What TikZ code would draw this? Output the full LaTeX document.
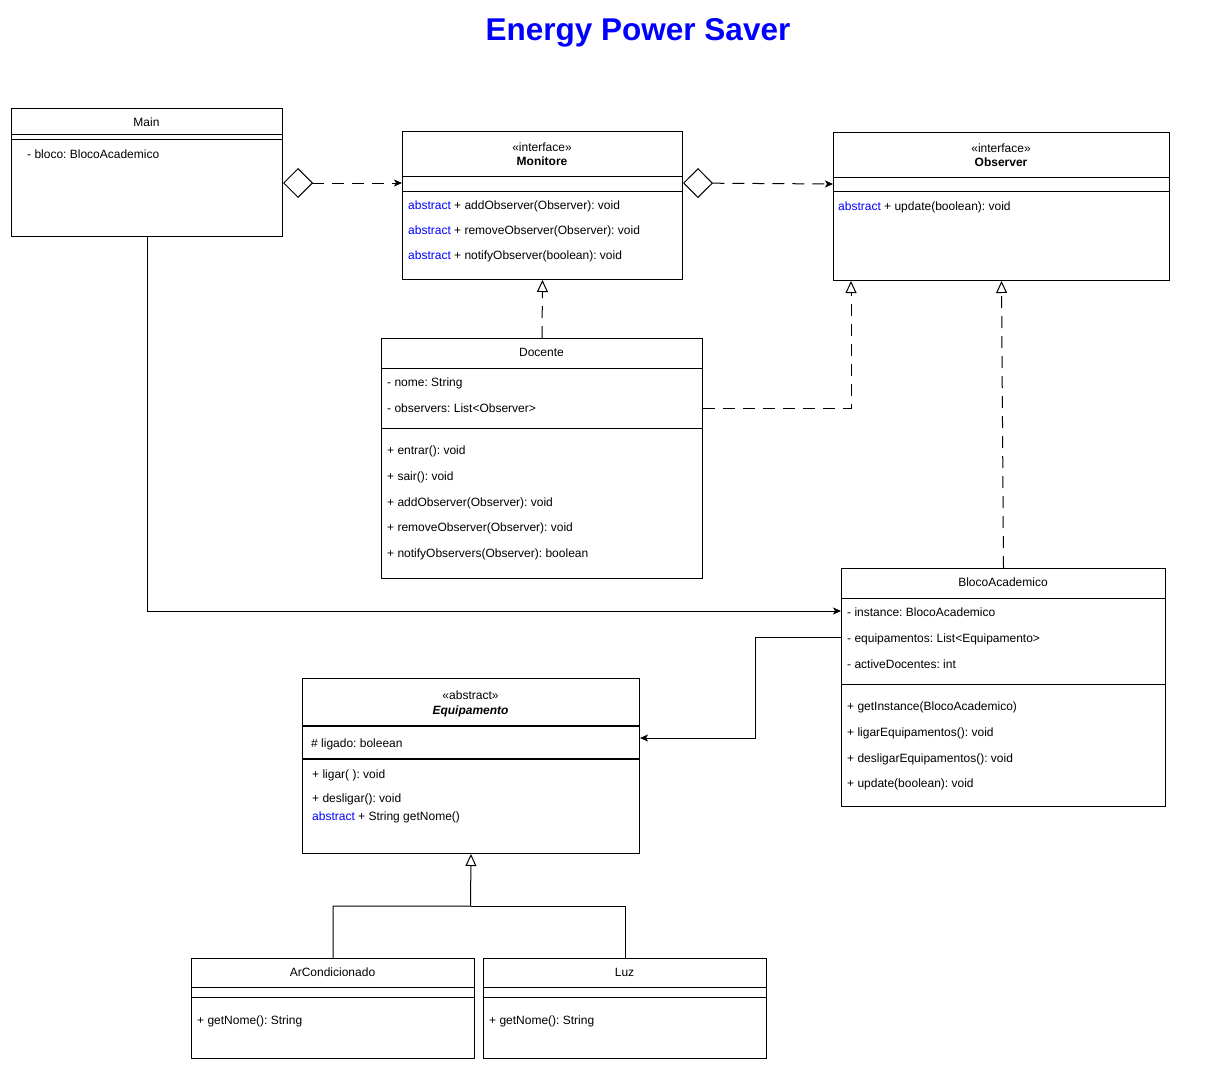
\documentclass[tikz,border=0pt]{standalone}
\usepackage{fontspec}
\setmainfont{Liberation Sans}
\usetikzlibrary{arrows.meta}
\definecolor{absblue}{RGB}{0,0,255}
\newcommand{\abst}{{\color{absblue}abstract}}
\frenchspacing
\begin{document}
\frenchspacing
\begin{tikzpicture}[x=1pt,y=-1pt,
  box/.style={draw=black, line width=1pt, fill=white, anchor=north west, inner sep=0pt},
  mem/.style={anchor=base west, inner sep=0pt, font=\fontsize{12}{14}\selectfont\frenchspacing},
  hdr/.style={anchor=base, inner sep=0pt, font=\fontsize{12}{14}\selectfont\frenchspacing},
  sep/.style={draw=black, line width=1pt},
  conn/.style={draw=black, line width=1pt},
  dashconn/.style={conn, dash pattern=on 12pt off 8pt},
  filledtip/.style={-{Stealth[length=8pt,width=7pt,inset=2pt]}},
  realize/.style={-{Triangle[open,length=12pt,width=11pt,fill=white]}},
  aggr/.style={{Diamond[open,length=30pt,width=30pt,fill=white]}-{Stealth[length=8pt,width=7pt,inset=2pt]}}
]
\useasboundingbox (0,0) rectangle (1206,1070);

% Title
\node[anchor=base, inner sep=0pt, font=\fontsize{31.5}{36}\selectfont\bfseries, text=absblue] (title) at (638,40.5) {Energy Power Saver};

% ---------- Main ----------
\node[box, minimum width=271pt, minimum height=128pt] (main) at (11,108) {};
\draw[sep] (main.west |- 0,134) -- (main.east |- 0,134);
\draw[sep] (main.west |- 0,139) -- (main.east |- 0,139);
\node[hdr] (mainT) at (146.5,126.3) {Main};
\node[mem] (mainA1) at (27,158.3) {- bloco: BlocoAcademico};

% ---------- Monitore ----------
\node[box, minimum width=280pt, minimum height=148pt] (monitore) at (402,131) {};
\draw[sep] (monitore.west |- 0,176) -- (monitore.east |- 0,176);
\draw[sep] (monitore.west |- 0,191) -- (monitore.east |- 0,191);
\node[hdr] (monS) at (542,151.3) {«interface»};
\node[hdr, font=\fontsize{12}{14}\selectfont\bfseries] (monT) at (542,165.3) {Monitore};
\node[mem] (monM1) at (408,209.3) {\abst{} + addObserver(Observer): void};
\node[mem] (monM2) at (408,234.3) {\abst{} + removeObserver(Observer): void};
\node[mem] (monM3) at (408,259.3) {\abst{} + notifyObserver(boolean): void};

% ---------- Observer ----------
\node[box, minimum width=336pt, minimum height=148pt] (observer) at (833,132) {};
\draw[sep] (observer.west |- 0,177) -- (observer.east |- 0,177);
\draw[sep] (observer.west |- 0,191) -- (observer.east |- 0,191);
\node[hdr] (obsS) at (1001,152.3) {«interface»};
\node[hdr, font=\fontsize{12}{14}\selectfont\bfseries] (obsT) at (1001,166.3) {Observer};
\node[mem] (obsM1) at (838,210.3) {\abst{} + update(boolean): void};

% ---------- Docente ----------
\node[box, minimum width=321pt, minimum height=240pt] (docente) at (381,338) {};
\draw[sep] (docente.west |- 0,368) -- (docente.east |- 0,368);
\draw[sep] (docente.west |- 0,428) -- (docente.east |- 0,428);
\node[hdr] (docT) at (541.5,356.3) {Docente};
\node[mem] (docA1) at (387,386.3) {- nome: String};
\node[mem] (docA2) at (387,412.3) {- observers: List<Observer>};
\node[mem] (docM1) at (387,454.3) {+ entrar(): void};
\node[mem] (docM2) at (387,480.3) {+ sair(): void};
\node[mem] (docM3) at (387,506.3) {+ addObserver(Observer): void};
\node[mem] (docM4) at (387,531.3) {+ removeObserver(Observer): void};
\node[mem] (docM5) at (387,557.3) {+ notifyObservers(Observer): boolean};

% ---------- BlocoAcademico ----------
\node[box, minimum width=324pt, minimum height=238pt] (bloco) at (841,568) {};
\draw[sep] (bloco.west |- 0,598) -- (bloco.east |- 0,598);
\draw[sep] (bloco.west |- 0,684) -- (bloco.east |- 0,684);
\node[hdr] (bloT) at (1003,586.3) {BlocoAcademico};
\node[mem] (bloA1) at (847,616.3) {- instance: BlocoAcademico};
\node[mem] (bloA2) at (847,642.3) {- equipamentos: List<Equipamento>};
\node[mem] (bloA3) at (847,668.3) {- activeDocentes: int};
\node[mem] (bloM1) at (847,710.3) {+ getInstance(BlocoAcademico)};
\node[mem] (bloM2) at (847,736.3) {+ ligarEquipamentos(): void};
\node[mem] (bloM3) at (847,762.3) {+ desligarEquipamentos(): void};
\node[mem] (bloM4) at (847,787.3) {+ update(boolean): void};

% ---------- Equipamento ----------
\node[box, minimum width=337pt, minimum height=175pt] (equip) at (302,678) {};
\draw[sep, line width=1.6pt] (equip.west |- 0,726) -- (equip.east |- 0,726);
\draw[sep, line width=1.6pt] (equip.west |- 0,759) -- (equip.east |- 0,759);
\node[hdr] (eqS) at (470.5,699.3) {«abstract»};
\node[hdr, font=\fontsize{12}{14}\selectfont\bfseries\itshape] (eqT) at (470.5,714.3) {Equipamento};
\node[mem] (eqA1) at (311,747.3) {\# ligado: boleean};
\node[mem] (eqM1) at (312,778.3) {+ ligar( ): void};
\node[mem] (eqM2) at (312,802.3) {+ desligar(): void};
\node[mem] (eqM3) at (312,820.3) {\abst{} + String getNome()};

% ---------- ArCondicionado ----------
\node[box, minimum width=283pt, minimum height=100pt] (arc) at (191,958) {};
\draw[sep] (arc.west |- 0,987) -- (arc.east |- 0,987);
\draw[sep] (arc.west |- 0,997) -- (arc.east |- 0,997);
\node[hdr] (arcT) at (332.5,976.3) {ArCondicionado};
\node[mem] (arcM1) at (197,1024.3) {+ getNome(): String};

% ---------- Luz ----------
\node[box, minimum width=283pt, minimum height=100pt] (luz) at (483,958) {};
\draw[sep] (luz.west |- 0,987) -- (luz.east |- 0,987);
\draw[sep] (luz.west |- 0,997) -- (luz.east |- 0,997);
\node[hdr] (luzT) at (624.5,976.3) {Luz};
\node[mem] (luzM1) at (489,1024.3) {+ getNome(): String};

% ---------- Connectors ----------
\draw[dashconn, aggr] (main.east |- 0,183) -- (monitore.west |- 0,183);
\draw[dashconn, aggr] (monitore.east |- 0,183) -- (observer.west |- 0,184);
\draw[dashconn, realize] (docente.north) -- (monitore.south);
\draw[dashconn, realize] (docente.east |- 0,408) -| ([xshift=18pt]observer.south west);
\draw[dashconn, realize] (bloco.north) -- (observer.south);
\draw[conn, filledtip] (main.south) |- (bloco.west |- 0,611);
\draw[conn, filledtip] (bloco.west |- 0,637) -- (755,637) -- (755,738) -- (equip.east |- 0,738);
\coordinate (junc) at (470.5,906);
\draw[conn, realize] (arc.north) |- (junc) -- (equip.south);
\draw[conn] (luz.north) |- (junc);
\end{tikzpicture}
\end{document}
